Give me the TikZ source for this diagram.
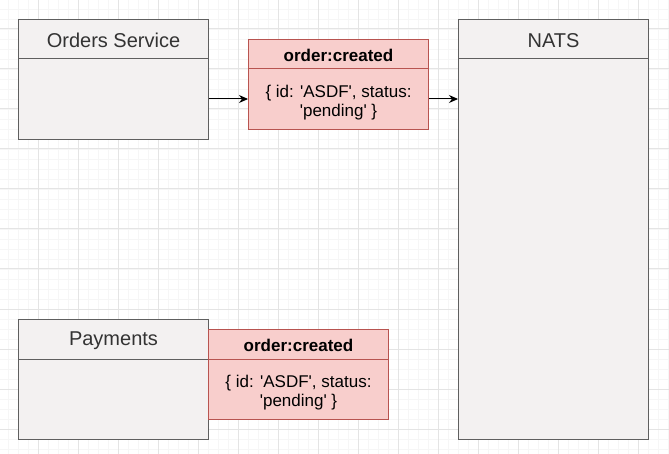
\documentclass[tikz,border=0pt]{standalone}
\usepackage{fontspec}
\setmainfont{Liberation Sans}
\usetikzlibrary{arrows.meta}
\definecolor{gridminor}{HTML}{F6F6F6}
\definecolor{gridmajor}{HTML}{E4E4E4}
\definecolor{boxfill}{HTML}{F3F1F1}
\definecolor{boxline}{HTML}{5F5F5F}
\definecolor{redfill}{HTML}{F8CECC}
\definecolor{redline}{HTML}{B85450}
\definecolor{titletext}{HTML}{333333}
\newcommand{\sq}{\textquotesingle}
\tikzset{
  svcbox/.style={draw=boxline, fill=boxfill, line width=1pt, rectangle, inner sep=0pt, anchor=north west, minimum width=190pt},
  msgbox/.style={draw=redline, fill=redfill, line width=1pt, rectangle, inner sep=0pt, anchor=north west, minimum width=180pt, minimum height=90pt},
  svctitle/.style={text=titletext, font=\fontsize{20}{24}\selectfont, inner sep=0pt},
  msgtitle/.style={text=black, font=\bfseries\fontsize{17}{20}\selectfont, inner sep=0pt},
  msgbodytext/.style={text=black, font=\fontsize{17}{19.5}\selectfont, align=center, inner sep=0pt},
  flow/.style={draw=black, line width=1pt, -{Stealth[length=9pt,width=8pt]}},
}
\begin{document}
\begin{tikzpicture}[x=1pt,y=-1pt]
\useasboundingbox (0,0) rectangle (669,454);
\fill[white] (0,0) rectangle (669,454);
\foreach \x in {8,18,...,668} \draw[gridminor, line width=0.8pt] (\x,0) -- (\x,454);
\foreach \y in {9,19,...,449} \draw[gridminor, line width=0.8pt] (0,\y) -- (669,\y);
\foreach \x in {38,78,...,668} \draw[gridmajor, line width=1pt] (\x,0) -- (\x,454);
\foreach \y in {29,69,...,449} \draw[gridmajor, line width=1pt] (0,\y) -- (669,\y);

% Orders Service
\node[svcbox, minimum height=120pt] (orders) at (18,19) {};
\draw[boxline, line width=1pt] ([yshift=-40pt]orders.north west) -- ([yshift=-40pt]orders.north east);
\node[svctitle] (orderstitle) at ([yshift=-21.5pt]orders.north) {Orders Service};

% NATS
\node[svcbox, minimum height=420pt] (nats) at (458,19) {};
\draw[boxline, line width=1pt] ([yshift=-40pt]nats.north west) -- ([yshift=-40pt]nats.north east);
\node[svctitle] (natstitle) at ([yshift=-21.5pt]nats.north) {NATS};

% Payments
\node[svcbox, minimum height=120pt] (payments) at (18,319) {};
\draw[boxline, line width=1pt] ([yshift=-40pt]payments.north west) -- ([yshift=-40pt]payments.north east);
\node[svctitle] (paymentstitle) at ([yshift=-21.5pt]payments.north) {Payments};

% message 1
\node[msgbox] (msg1) at (248,39) {};
\draw[redline, line width=1pt] ([yshift=-30pt]msg1.north west) -- ([yshift=-30pt]msg1.north east);
\node[msgtitle] (msg1title) at ([yshift=-16pt]msg1.north) {order:created};
\node[msgbodytext] (msg1body) at ([yshift=-63.5pt]msg1.north) {\{ id: \sq ASDF\sq, status:\\\sq pending\sq\ \}};

% message 2
\node[msgbox] (msg2) at (208,329) {};
\draw[redline, line width=1pt] ([yshift=-30pt]msg2.north west) -- ([yshift=-30pt]msg2.north east);
\node[msgtitle] (msg2title) at ([yshift=-16pt]msg2.north) {order:created};
\node[msgbodytext] (msg2body) at ([yshift=-63.5pt]msg2.north) {\{ id: \sq ASDF\sq, status:\\\sq pending\sq\ \}};

% arrows
\coordinate (flowy) at (0,99);
\draw[flow] (orders.east |- flowy) -- (msg1.west |- flowy);
\draw[flow] (msg1.east |- flowy) -- (nats.west |- flowy);
\end{tikzpicture}
\end{document}
